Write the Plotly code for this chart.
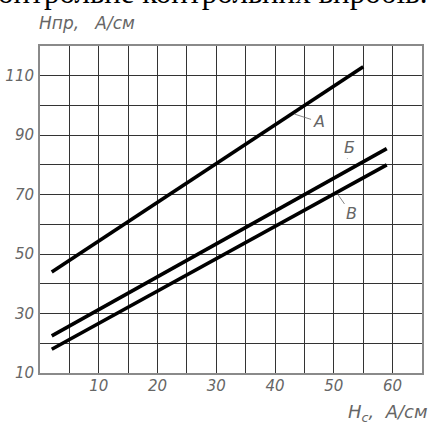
import plotly.graph_objects as go

# Data
hc_A = [2, 55]
hpr_A = [44, 113]
hc_B = [2, 59]
hpr_B = [22.5, 85.5]
hc_V = [2, 59]
hpr_V = [18, 80]

line_names = ["А", "Б", "В"]
# label text positions and the point on the line the leader touches
label_x = [47.4, 52.6, 53.0]
label_y = [94.5, 86.0, 63.5]
leader_x = [43.3, 52.3, 50.6]
leader_y = [97.1, 82.1, 70.3]

x_ticks = list(range(0, 66, 5))
x_ticktext = ["<i>%d</i>" % v if (v % 10 == 0 and v > 0) else "" for v in x_ticks]
y_ticks = list(range(10, 121, 10))
y_ticktext = ["<i>%d</i>" % v if (v % 20 == 10 and v < 120) else "" for v in y_ticks]

tick_font = dict(family="DejaVu Sans", size=15, color="#666666")

# plot area in pixels (for converting page positions into paper fractions)
L, R, T, B = 40, 9, 46, 51
W, H = 431, 424
PW, PH = W - L - R, H - T - B


def px(xp):
    return (xp - L) / PW


def py(yp):
    return (H - B - yp) / PH


fig = go.Figure()
for xs, ys in [(hc_A, hpr_A), (hc_B, hpr_B), (hc_V, hpr_V)]:
    fig.add_trace(go.Scatter(x=xs, y=ys, mode="lines",
                             line=dict(color="black", width=3.6),
                             showlegend=False, hoverinfo="skip"))

annotations = []
for name, tx, ty, lx, ly in zip(line_names, label_x, label_y, leader_x, leader_y):
    annotations.append(dict(
        x=lx, y=ly, xref="x", yref="y",
        ax=tx, ay=ty, axref="x", ayref="y",
        text="<i>" + name + "</i>", showarrow=True, arrowhead=0,
        arrowwidth=0.8, arrowcolor="#666666",
        font=dict(family="DejaVu Sans", size=16, color="#666666"),
    ))

fig.update_layout(
    width=W, height=H,
    margin=dict(l=L, r=R, t=T, b=B, autoexpand=False),
    paper_bgcolor="white", plot_bgcolor="white",
    xaxis=dict(range=[0, 65], tickmode="array", tickvals=x_ticks,
               ticktext=x_ticktext, showgrid=True, gridcolor="#333333",
               gridwidth=1, zeroline=False, showline=True, mirror=True,
               linecolor="#8a8a8a", linewidth=2, ticks="",
               tickfont=tick_font, tickangle=0, ticklabelstandoff=-2,
               automargin=False, fixedrange=True),
    yaxis=dict(range=[10, 120], tickmode="array", tickvals=y_ticks,
               ticktext=y_ticktext, showgrid=True, gridcolor="#333333",
               gridwidth=1, zeroline=False, showline=True, mirror=True,
               linecolor="#8a8a8a", linewidth=2, ticks="",
               tickfont=tick_font, ticklabelstandoff=1,
               automargin=False, fixedrange=True),
    annotations=annotations,
)

# axis titles and the cut-off page text above the chart
fig.add_annotation(x=px(37), y=py(23), xref="paper", yref="paper",
                   xanchor="left", yanchor="middle", showarrow=False,
                   text="<i>Нпр,   А/см</i>",
                   font=dict(family="DejaVu Sans", size=17, color="#666666"))
fig.add_annotation(x=px(430), y=py(413), xref="paper", yref="paper",
                   xanchor="right", yanchor="middle", showarrow=False,
                   text="<i>H<sub>c</sub>,  A/см</i>",
                   font=dict(family="DejaVu Sans", size=18, color="#666666"))
fig.add_annotation(x=px(429), y=py(-8), xref="paper", yref="paper",
                   xanchor="right", yanchor="middle", showarrow=False,
                   text="онтрольне контрольних виробів.",
                   font=dict(family="Liberation Serif", size=31, color="black"))

fig.write_html("out.html", config={"displayModeBar": False},
               post_script="document.body.style.margin='0';")
